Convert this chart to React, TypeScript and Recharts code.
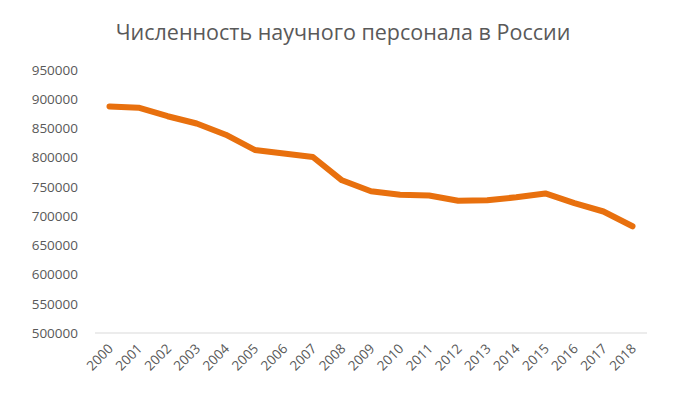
import React from "react";
import { LineChart, Line, XAxis, YAxis } from "recharts";

const years = [
  "2000", "2001", "2002", "2003", "2004", "2005", "2006", "2007", "2008", "2009",
  "2010", "2011", "2012", "2013", "2014", "2015", "2016", "2017", "2018",
];
const personnel = [
  887729, 885568, 870878, 858470, 839338, 813207, 807066, 801135, 761252, 742433,
  736540, 735273, 726318, 727029, 732274, 738857, 722291, 707887, 682580,
];
const yTicks = [500000, 550000, 600000, 650000, 700000, 750000, 800000, 850000, 900000, 950000];

const title = "Численность научного персонала в России";
const font = "'Open Sans', sans-serif";

const data = years.map((year, i) => ({ year, value: personnel[i] }));

const YearTick = (props: any) => {
  const { x, y, payload } = props;
  return (
    <g transform={`translate(${x + 1},${y + 5})`}>
      <text
        x={0}
        y={0}
        dy={5}
        textAnchor="end"
        transform="rotate(-45)"
        fill="#595959"
        fontSize={13.5}
        fontFamily={font}
      >
        {payload.value}
      </text>
    </g>
  );
};

const App = () => {
  return (
    <div style={{ position: "absolute", left: 0, top: 0, width: 696, height: 395, background: "#fff" }}>
      <svg width={696} height={50} style={{ position: "absolute", left: 0, top: 0 }}>
        <text
          x={343}
          y={40}
          textAnchor="middle"
          fill="#595959"
          fontSize={21.5}
          fontFamily={font}
        >
          {title}
        </text>
      </svg>
      <div style={{ position: "absolute", left: 0, top: 0 }}>
        <LineChart
          width={696}
          height={395}
          data={data}
          margin={{ top: 70, right: 49, left: 0, bottom: 0 }}
        >
          <XAxis
            dataKey="year"
            stroke="#d9d9d9"
            tickLine={false}
            tick={<YearTick />}
            interval={0}
            height={62}
            padding={{ left: 14.5, right: 14.5 }}
          />
          <YAxis
            domain={[500000, 950000]}
            ticks={yTicks}
            width={95}
            axisLine={false}
            tickLine={false}
            tickSize={10}
            tickMargin={7}
            tick={{ fill: "#595959", fontSize: 13.5, fontFamily: font }}
            interval={0}
          />
          <Line
            type="linear"
            dataKey="value"
            stroke="#E8700E"
            strokeWidth={6}
            strokeLinecap="round"
            strokeLinejoin="round"
            dot={false}
            isAnimationActive={false}
          />
        </LineChart>
      </div>
    </div>
  );
};

export default App;
